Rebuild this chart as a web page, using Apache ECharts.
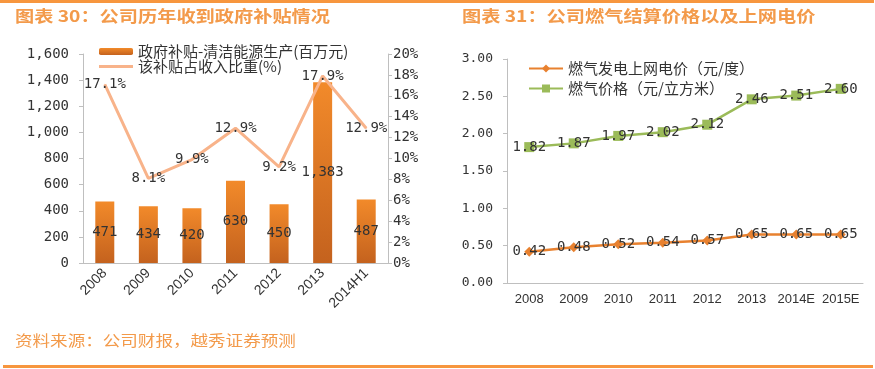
<!DOCTYPE html>
<html><head><meta charset="utf-8">
<script src="https://cdn.jsdelivr.net/npm/echarts@6/dist/echarts.min.js"></script>
<style>html,body{margin:0;padding:0;background:#fff}#c{width:875px;height:369px}</style>
</head><body><div id="c"></div>
<script>
const yearsL = ['2008','2009','2010','2011','2012','2013','2014H1'];
const subsidy = [471, 434, 420, 630, 450, 1383, 487];
const ratio = [17.1, 8.1, 9.9, 12.9, 9.2, 17.9, 12.9];
const yearsR = ['2008','2009','2010','2011','2012','2013','2014E','2015E'];
const elecPrice = [0.42, 0.48, 0.52, 0.54, 0.57, 0.65, 0.65, 0.65];
const gasPrice = [1.82, 1.87, 1.97, 2.02, 2.12, 2.46, 2.51, 2.60];

const CJK = '"Noto Sans CJK SC", sans-serif';
const NUM = '"DejaVu Sans Mono", monospace';
const ORANGE = '#F39A4A';
const axisCol = '#BFBFBF';
const fmtThousands = v => v >= 1000 ? Math.floor(v/1000) + ',' + String(v%1000).padStart(3,'0') : String(v);

const chart = echarts.init(document.getElementById('c'));
chart.setOption({
  animation: false,
  backgroundColor: '#fff',
  graphic: [
    {type:'rect', shape:{x:0,y:0,width:874,height:3}, style:{fill:'#F7963E'}},
    {type:'rect', shape:{x:3,y:365,width:870,height:3}, style:{fill:'#F7963E'}},
    {type:'text', x:15, y:8, scaleX:1.2, style:{text:'图表 30：公司历年收到政府补贴情况', fill:ORANGE, font:'bold 16px ' + CJK}},
    {type:'text', x:462, y:8, scaleX:1.2, style:{text:'图表 31：公司燃气结算价格以及上网电价', fill:ORANGE, font:'bold 16px ' + CJK}},
    {type:'text', x:15, y:333, scaleX:1.17, style:{text:'资料来源：公司财报，越秀证券预测', fill:ORANGE, font:'15px ' + CJK}}
  ],
  legend: [
    {left:99, top:44, orient:'vertical', itemGap:0, itemWidth:34, itemHeight:7, padding:0,
     textStyle:{fontFamily:CJK, fontSize:15, lineHeight:12, color:'#333'},
     data:[{name:'政府补贴-清洁能源生产(百万元)'},
           {name:'该补贴占收入比重(%)', icon:'path://M0,0H34V3H0Z'}]},
    {left:528, top:61, orient:'vertical', itemGap:5, itemWidth:34, itemHeight:10, padding:0,
     textStyle:{fontFamily:CJK, fontSize:15, color:'#333'},
     data:['燃气发电上网电价（元/度）','燃气价格（元/立方米）']}
  ],
  grid: [
    {left:83, right:487, top:54, bottom:106},
    {left:507, right:12, top:59, bottom:86}
  ],
  xAxis: [
    {type:'category', gridIndex:0, data:yearsL,
     axisLine:{lineStyle:{color:axisCol}}, axisTick:{lineStyle:{color:axisCol}, length:4},
     axisLabel:{rotate:45, color:'#333', fontFamily:'"Liberation Sans", Arial, sans-serif', fontSize:14, margin:8, interval:0}},
    {type:'category', gridIndex:1, data:yearsR,
     axisLine:{lineStyle:{color:axisCol}}, axisTick:{lineStyle:{color:axisCol}, length:4},
     axisLabel:{color:'#333', fontFamily:'"Liberation Sans", Arial, sans-serif', fontSize:13, margin:10, interval:0}}
  ],
  yAxis: [
    {type:'value', gridIndex:0, min:0, max:1600, interval:200,
     axisLine:{show:true, lineStyle:{color:axisCol}}, axisTick:{show:true, length:4, lineStyle:{color:axisCol}},
     splitLine:{show:false},
     axisLabel:{color:'#333', fontFamily:NUM, fontSize:14, margin:14, formatter:fmtThousands}},
    {type:'value', gridIndex:0, min:0, max:20, interval:2, position:'right',
     axisLine:{show:true, lineStyle:{color:axisCol}}, axisTick:{show:true, length:4, lineStyle:{color:axisCol}},
     splitLine:{show:false},
     axisLabel:{color:'#333', fontFamily:NUM, fontSize:14, margin:5, formatter:'{value}%'}},
    {type:'value', gridIndex:1, min:0, max:3, interval:0.5,
     axisLine:{show:true, lineStyle:{color:axisCol}}, axisTick:{show:true, length:4, lineStyle:{color:axisCol}},
     splitLine:{show:false},
     axisLabel:{color:'#333', fontFamily:NUM, fontSize:13, margin:14, formatter:v => v.toFixed(2)}}
  ],
  series: [
    {name:'政府补贴-清洁能源生产(百万元)', type:'bar', xAxisIndex:0, yAxisIndex:0, data:subsidy, barWidth:19,
     itemStyle:{color:new echarts.graphic.LinearGradient(0,0,0,1,[{offset:0,color:'#F28A2A'},{offset:1,color:'#C4621E'}])},
     label:{show:true, position:'inside', color:'#333', fontFamily:NUM, fontSize:14,
       formatter:p => fmtThousands(p.value)}},
    {name:'该补贴占收入比重(%)', type:'line', xAxisIndex:0, yAxisIndex:1, data:ratio,
     symbol:'circle', symbolSize:1, z:5,
     lineStyle:{color:'#F8B38A', width:3}, itemStyle:{color:'#F8B38A'},
     label:{show:true, position:'inside', color:'#333', fontFamily:NUM, fontSize:14,
       formatter:p => p.value.toFixed(1) + '%'}},
    {name:'燃气发电上网电价（元/度）', type:'line', xAxisIndex:1, yAxisIndex:2, data:elecPrice,
     symbol:'diamond', symbolSize:10,
     lineStyle:{color:'#E8812F', width:2.5}, itemStyle:{color:'#E8812F'},
     label:{show:true, position:'inside', color:'#333', fontFamily:NUM, fontSize:14,
       formatter:p => p.value.toFixed(2)}},
    {name:'燃气价格（元/立方米）', type:'line', xAxisIndex:1, yAxisIndex:2, data:gasPrice,
     symbol:'rect', symbolSize:10,
     lineStyle:{color:'#9BBB59', width:2.5}, itemStyle:{color:'#9BBB59'},
     label:{show:true, position:'inside', color:'#333', fontFamily:NUM, fontSize:14,
       formatter:p => p.value.toFixed(2)}}
  ]
});
</script></body></html>
